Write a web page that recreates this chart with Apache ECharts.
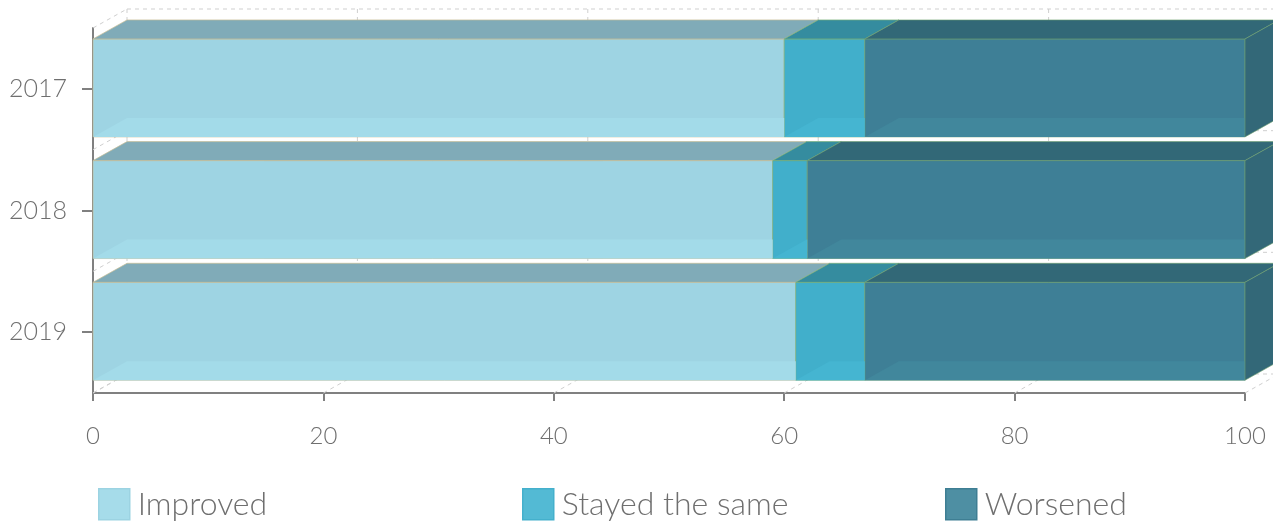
<!DOCTYPE html>
<html>
<head>
<meta charset="utf-8">
<title>Change by year</title>
<script src="https://cdn.jsdelivr.net/npm/echarts@6/dist/echarts.min.js"></script>
<style>
  html, body { margin: 0; padding: 0; background: #ffffff; }
  #chart { width: 1273px; height: 525px; }
</style>
</head>
<body>
<div id="chart"></div>
<script>
// Categories and shares (percent) for each answer
const years = ['2017', '2018', '2019'];
const improved = [60, 59, 61];
const stayedSame = [7, 3, 6];
const worsened = [33, 38, 33];
const valueTicks = [0, 20, 40, 60, 80, 100];
const seriesNames = ['Improved', 'Stayed the same', 'Worsened'];

// Face colours of each box: front, top, side, floor seen through the front
const palette = [
  { legend: '#a6dcea', legendBorder: '#9cd3e2', front: '#9ed4e3', top: '#80abb8', side: '#7fa9b6', floor: '#a3dbe9', edge: 'rgba(200,190,150,0.7)' },
  { legend: '#53bad4', legendBorder: '#44b0cc', front: '#41afcb', top: '#358c9f', side: '#2f7e92', floor: '#45b5d1', edge: 'rgba(120,175,120,0.7)' },
  { legend: '#4e8fa3', legendBorder: '#3e7e93', front: '#3e7f96', top: '#326877', side: '#336878', floor: '#41879c', edge: 'rgba(110,160,110,0.6)' }
];

// Depth of the 3D boxes in screen pixels
const DEPTH_X = 34;
const DEPTH_Y = -19;

const seriesValues = [improved, stayedSame, worsened];

// Stack the segments: each row is [categoryIndex, start, end]
function stackedRows(k) {
  return years.map((_, i) => {
    let start = 0;
    for (let j = 0; j < k; j++) start += seriesValues[j][i];
    return [i, start, start + seriesValues[k][i]];
  });
}

function poly(points, fill, stroke, z2) {
  return {
    type: 'polygon',
    z2: z2 || 0,
    shape: { points: points },
    style: { fill: fill, stroke: stroke || null, lineWidth: stroke ? 1 : 0 }
  };
}

function makeBoxRenderer(k) {
  const c = palette[k];
  const isLast = k === seriesValues.length - 1;
  return function (params, api) {
    const cat = api.value(0);
    const p0 = api.coord([api.value(1), cat]);
    const p1 = api.coord([api.value(2), cat]);
    const band = api.size([0, 1])[1];
    const x0 = p0[0], x1 = p1[0];
    const yTop = p0[1] - band * 0.41;
    const yBot = p0[1] + band * 0.395;
    const children = [];
    // front face
    children.push(poly([[x0, yTop], [x1, yTop], [x1, yBot], [x0, yBot]], c.front, c.edge, 1));
    // floor of the box showing through the translucent front
    children.push(poly([[x0, yBot], [x1, yBot], [x1, yBot + DEPTH_Y], [Math.min(x0 + DEPTH_X, x1), yBot + DEPTH_Y]], c.floor, null, 2));
    // top face
    children.push(poly([[x0, yTop], [x1, yTop], [x1 + DEPTH_X, yTop + DEPTH_Y], [x0 + DEPTH_X, yTop + DEPTH_Y]], c.top, c.edge, 3));
    if (isLast) {
      // right-hand side face
      children.push(poly([[x1, yTop], [x1 + DEPTH_X, yTop + DEPTH_Y], [x1 + DEPTH_X, yBot + DEPTH_Y], [x1, yBot]], c.side, c.edge, 3));
    }
    return { type: 'group', children: children };
  };
}

// Dashed wall and floor lines of the 3D frame
function renderFrame(params, api) {
  const band = api.size([0, 1])[1];
  const plotTop = api.coord([0, 0])[1] - band / 2;
  const plotBottom = api.coord([0, years.length - 1])[1] + band / 2;
  const xMin = api.coord([valueTicks[0], 0])[0];
  const xMax = api.coord([valueTicks[valueTicks.length - 1], 0])[0];
  const dash = { stroke: '#cfcfcf', lineWidth: 1, lineDash: [4, 4] };
  const lines = [];
  const line = (a, b) => lines.push({ type: 'line', shape: { x1: a[0], y1: a[1], x2: b[0], y2: b[1] }, style: dash });
  valueTicks.forEach(t => {
    const x = api.coord([t, 0])[0];
    // back wall vertical
    line([x + DEPTH_X, plotTop + DEPTH_Y], [x + DEPTH_X, plotBottom + DEPTH_Y]);
    // floor line running back
    line([x, plotBottom], [x + DEPTH_X, plotBottom + DEPTH_Y]);
  });
  const bounds = [plotTop];
  years.forEach((_, i) => bounds.push(api.coord([0, i])[1] + band / 2));
  bounds.forEach(y => {
    // left wall diagonal and back wall horizontal
    line([xMin, y], [xMin + DEPTH_X, y + DEPTH_Y]);
    line([xMin + DEPTH_X, y + DEPTH_Y], [xMax + DEPTH_X, y + DEPTH_Y]);
  });
  return { type: 'group', children: lines };
}

const fontFamily = "Lato, 'Open Sans', 'DejaVu Sans', sans-serif";
const axisColor = '#808080';
const labelColor = '#6f6f6f';

const series = [{
  type: 'custom',
  name: 'frame',
  silent: true,
  z: 1,
  renderItem: renderFrame,
  data: [[0, 0, 0]]
}];
seriesNames.forEach((name, k) => {
  series.push({
    type: 'custom',
    name: name,
    z: 2,
    renderItem: makeBoxRenderer(k),
    encode: { x: [1, 2], y: 0 },
    itemStyle: { color: palette[k].legend, borderColor: palette[k].legendBorder, borderWidth: 1 },
    data: stackedRows(k)
  });
});

const legendLefts = [98, 522, 945];
const legends = seriesNames.map((name, k) => ({
  left: legendLefts[k],
  top: 488,
  padding: 0,
  orient: 'horizontal',
  itemWidth: 31,
  itemHeight: 31,
  icon: 'rect',
  selectedMode: false,
  textStyle: { fontFamily: fontFamily, fontSize: 32, color: labelColor, fontWeight: 300, padding: [0, 0, 0, 3] },
  data: [{ name: name, itemStyle: { color: palette[k].legend, borderColor: palette[k].legendBorder, borderWidth: 1.5 } }]
}));

const chart = echarts.init(document.getElementById('chart'), null, { renderer: 'canvas' });
chart.setOption({
  animation: false,
  backgroundColor: '#ffffff',
  legend: legends,
  grid: { left: 93, right: 28, top: 28, bottom: 132, containLabel: false },
  xAxis: {
    type: 'value',
    min: 0,
    max: 100,
    interval: 20,
    axisLine: { show: true, lineStyle: { color: axisColor, width: 2 } },
    axisTick: { show: true, length: 8, lineStyle: { color: axisColor, width: 2 } },
    splitLine: { show: false },
    axisLabel: { fontFamily: fontFamily, fontSize: 24, color: labelColor, margin: 31, fontWeight: 300 }
  },
  yAxis: {
    type: 'category',
    data: years,
    inverse: true,
    axisLine: { show: true, lineStyle: { color: axisColor, width: 2 } },
    axisTick: { show: true, alignWithLabel: true, length: 11, lineStyle: { color: axisColor, width: 2 } },
    splitLine: { show: false },
    axisLabel: { fontFamily: fontFamily, fontSize: 25, color: labelColor, margin: 26, fontWeight: 300 }
  },
  series: series
});
</script>
</body>
</html>
